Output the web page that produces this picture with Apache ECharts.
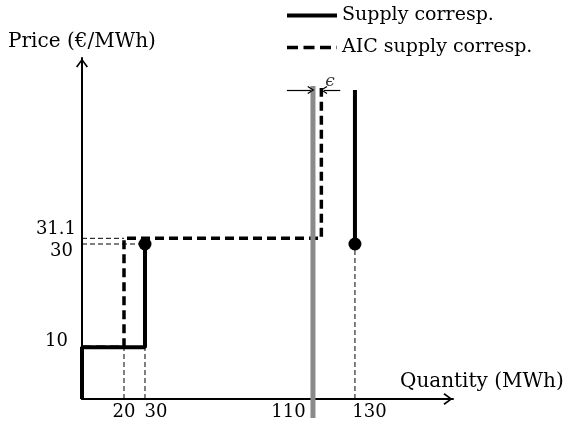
<!DOCTYPE html>
<html>
<head>
<meta charset="utf-8">
<script src="https://cdn.jsdelivr.net/npm/echarts@6/dist/echarts.min.js"></script>
<style>html,body{margin:0;padding:0;background:#fff}#c{width:571px;height:425px}</style>
</head>
<body>
<div id="c"></div>
<script>
// ---- data ----
const epsilon = 4;
const supplyStep = [[0, 0], [0, 10], [30, 10], [30, 30]];
const supplyTop = [[130, 30], [130, 59.8]];
const supplyDots = [[30, 30], [130, 30]];
const aicSupply = [[0, 10], [20, 10], [20, 31.1], [110 + epsilon, 31.1], [110 + epsilon, 60.2]];
const demandLine = [[110, -3.7], [110, 60.6]];
const guideSegments = [
  [[0, 31.1], [20, 31.1]],
  [[0, 30], [30, 30]],
  [[20, 0], [20, 10]],
  [[30, 0], [30, 10]],
  [[130, 0], [130, 30]]
];
const epsArrowLeft = [[97.6, 59.8], [109, 59.8]];
const epsArrowRight = [[123, 59.8], [115.2, 59.8]];
const epsLabelPoint = [[110 + epsilon, 59.8]];
const xTickValues = [20, 30, 110, 130];
const yTickValues = [10, 30, 31.1];
const seriesNames = ['Supply corresp.', 'AIC supply corresp.'];

const FONT = 'DejaVu Serif';
const chevron = 'path://M0,0 L6,8 L4.6,9 L0,2.6 L-4.6,9 L-6,8 Z';

const xRich = {
  t20: { padding: [0, 0, 0, 0] },
  t30: { padding: [0, 0, 0, 22] },
  t110: { padding: [0, 49, 0, 0] },
  t130: { padding: [0, 0, 0, 29] }
};
const yRich = {
  t10: { padding: [0, 8, 12, 0] },
  t30: { padding: [15, 3, 0, 0] },
  t311: { padding: [0, 0, 18, 0] }
};
for (const k in xRich) Object.assign(xRich[k], { fontFamily: FONT, fontSize: 18, color: '#000' });
for (const k in yRich) Object.assign(yRich[k], { fontFamily: FONT, fontSize: 18, color: '#000' });

const series = [];
guideSegments.forEach(seg => series.push({
  type: 'line', data: seg, symbol: 'none', silent: true, z: 1,
  lineStyle: { color: '#000', width: 1, type: [5, 3] }
}));
series.push({
  name: seriesNames[1], type: 'line', data: aicSupply, symbol: 'none', z: 2,
  itemStyle: { color: '#000' },
  lineStyle: { color: '#000', width: 3.5, type: [9, 5] }
});
series.push({
  type: 'line', data: demandLine, symbol: 'none', clip: false, z: 3, silent: true,
  lineStyle: { color: '#8a8a8a', width: 5 },
  markLine: {
    silent: true, symbol: ['none', chevron], symbolSize: [8, 7],
    label: { show: false },
    lineStyle: { color: '#000', width: 1.2, type: 'solid' },
    data: [
      [{ coord: epsArrowLeft[0] }, { coord: epsArrowLeft[1] }],
      [{ coord: epsArrowRight[0] }, { coord: epsArrowRight[1] }]
    ]
  }
});
series.push({
  name: seriesNames[0], type: 'line', data: supplyStep, symbol: 'none', z: 4,
  itemStyle: { color: '#000' },
  lineStyle: { color: '#000', width: 4 }
});
series.push({
  name: seriesNames[0], type: 'line', data: supplyTop, symbol: 'none', z: 4,
  itemStyle: { color: '#000' },
  lineStyle: { color: '#000', width: 4 }
});
series.push({
  type: 'scatter', data: supplyDots, symbolSize: 13, z: 5, silent: true,
  itemStyle: { color: '#000', opacity: 1 }
});
series.push({
  type: 'scatter', data: epsLabelPoint, symbolSize: 0, z: 5, silent: true,
  label: { show: true, position: 'right', distance: 4, offset: [0, -8], formatter: 'ϵ',
    fontFamily: FONT, fontStyle: 'italic', fontSize: 17, color: '#000' }
});

const chart = echarts.init(document.getElementById('c'), null, { renderer: 'canvas' });
chart.setOption({
  animation: false,
  backgroundColor: '#fff',
  textStyle: { fontFamily: FONT, color: '#000' },
  legend: {
    orient: 'vertical', left: 285, top: 6, padding: 0,
    data: [
      { name: seriesNames[0], lineStyle: { width: 4, type: 'solid', color: '#000' } },
      { name: seriesNames[1], lineStyle: { width: 3.5, type: [11, 5.5], color: '#000' } }
    ],
    itemWidth: 50, itemHeight: 14, itemGap: 13,
    selectedMode: false,
    textStyle: { fontFamily: FONT, fontSize: 19, color: '#000' },
    itemStyle: { opacity: 0 }
  },
  grid: { left: 82, right: 118, top: 58, bottom: 26, outerBoundsMode: 'none' },
  xAxis: {
    type: 'value', min: 0, max: 176.7,
    name: 'Quantity (MWh)', nameLocation: 'end', nameGap: -53,
    nameTextStyle: { fontFamily: FONT, fontSize: 20, color: '#000', verticalAlign: 'bottom', padding: [0, 0, 7, 0] },
    axisLine: { show: true, lineStyle: { color: '#000', width: 2 },
      symbol: ['none', chevron], symbolSize: [12, 10], symbolOffset: [0, -5] },
    axisTick: { show: false },
    splitLine: { show: false },
    axisLabel: {
      customValues: xTickValues, margin: 4,
      fontFamily: FONT, fontSize: 18, color: '#000',
      formatter: v => '{t' + v + '|' + v + '}',
      rich: xRich
    }
  },
  yAxis: {
    type: 'value', min: 0, max: 66,
    name: 'Price (€/MWh)', nameLocation: 'end', nameGap: 6,
    nameTextStyle: { fontFamily: FONT, fontSize: 20, color: '#000' },
    axisLine: { show: true, lineStyle: { color: '#000', width: 2 },
      symbol: ['none', chevron], symbolSize: [12, 10], symbolOffset: [0, -5] },
    axisTick: { show: false },
    splitLine: { show: false },
    axisLabel: {
      customValues: yTickValues, margin: 6,
      fontFamily: FONT, fontSize: 18, color: '#000',
      formatter: v => '{t' + String(v).replace('.', '') + '|' + v + '}',
      rich: yRich
    }
  },
  series: series
});
</script>
</body>
</html>
